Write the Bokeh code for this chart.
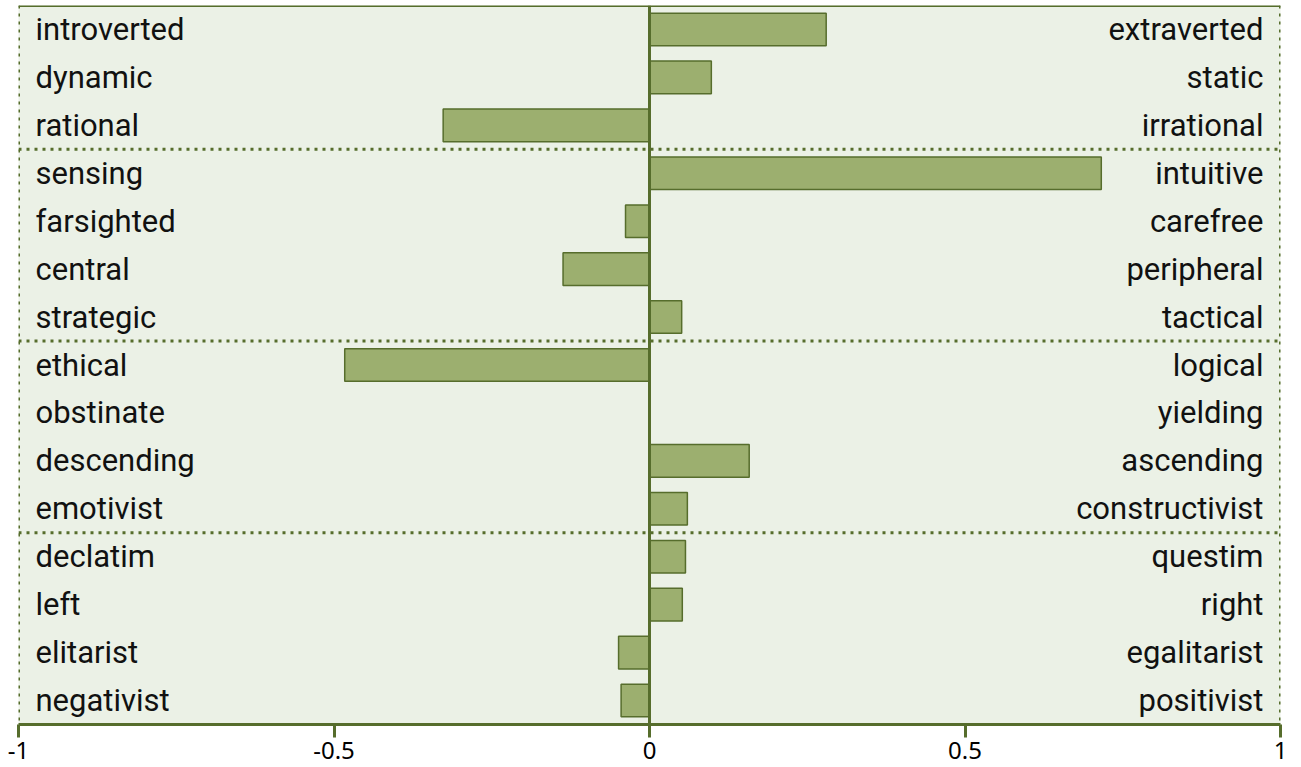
from bokeh.plotting import figure
from bokeh.models import ColumnDataSource, Range1d, Span, FixedTicker
from bokeh.core.properties import value
from bokeh.embed import file_html
from bokeh.resources import INLINE

left_labels = ["introverted", "dynamic", "rational", "sensing", "farsighted", "central",
               "strategic", "ethical", "obstinate", "descending", "emotivist", "declatim",
               "left", "elitarist", "negativist"]
right_labels = ["extraverted", "static", "irrational", "intuitive", "carefree", "peripheral",
                "tactical", "logical", "yielding", "ascending", "constructivist", "questim",
                "right", "egalitarist", "positivist"]
values = [0.28, 0.098, -0.327, 0.716, -0.038, -0.137, 0.051, -0.483, 0.0, 0.158, 0.060,
          0.057, 0.052, -0.049, -0.045]
group_breaks = [3, 7, 11]
x_ticks = [-1, -0.5, 0, 0.5, 1]
tick_labels = {-1: "-1", -0.5: "-0.5", 0: "0", 0.5: "0.5", 1: "1"}

GREEN = "#566d2c"
FILL = "#9caf6f"
BG = "#ebf1e6"

n = len(values)
src = ColumnDataSource(dict(
    y=[i + 0.5 for i in range(n)],
    left=[min(0, v) for v in values],
    right=[max(0, v) for v in values],
    llab=left_labels,
    rlab=right_labels,
    xl=[-1] * n,
    xr=[1] * n,
))

p = figure(width=1300, height=766, output_backend="svg", toolbar_location=None,
           x_range=Range1d(-1, 1), y_range=Range1d(n, 0),
           min_border_left=18, min_border_right=20, min_border_top=5, min_border_bottom=42)
p.background_fill_color = BG
p.border_fill_color = "white"
p.outline_line_color = None
p.grid.visible = False
p.yaxis.visible = False

p.hbar(y="y", left="left", right="right", height=0.68, source=src,
       fill_color=FILL, line_color=GREEN, line_width=1.5)

for b in group_breaks:
    p.add_layout(Span(location=b, dimension="width", line_color=GREEN,
                      line_width=3, line_dash="3 5"))
for xv in (-1, 1):
    p.add_layout(Span(location=xv, dimension="height", line_color=GREEN,
                      line_width=3, line_dash="3 5"))
p.add_layout(Span(location=0, dimension="width", line_color=GREEN, line_width=3))
p.add_layout(Span(location=0, dimension="height", line_color=GREEN, line_width=3))

p.text(x="xl", y="y", text="llab", source=src, x_offset=17, text_align="left",
       text_baseline="middle", text_font=value("Roboto"), text_font_size="31px",
       text_color="#111111")
p.text(x="xr", y="y", text="rlab", source=src, x_offset=-17, text_align="right",
       text_baseline="middle", text_font=value("Roboto"), text_font_size="31px",
       text_color="#111111")

ax = p.xaxis[0]
ax.ticker = FixedTicker(ticks=x_ticks)
ax.major_label_overrides = tick_labels
ax.axis_line_color = GREEN
ax.axis_line_width = 3
ax.major_tick_line_color = GREEN
ax.major_tick_line_width = 3
ax.major_tick_out = 13
ax.major_tick_in = 0
ax.minor_tick_line_color = None
ax.major_label_text_font = "Noto Sans"
ax.major_label_text_font_size = "24px"
ax.major_label_text_color = "black"
ax.major_label_standoff = 4

open("out.html", "w").write(file_html(p, INLINE))
